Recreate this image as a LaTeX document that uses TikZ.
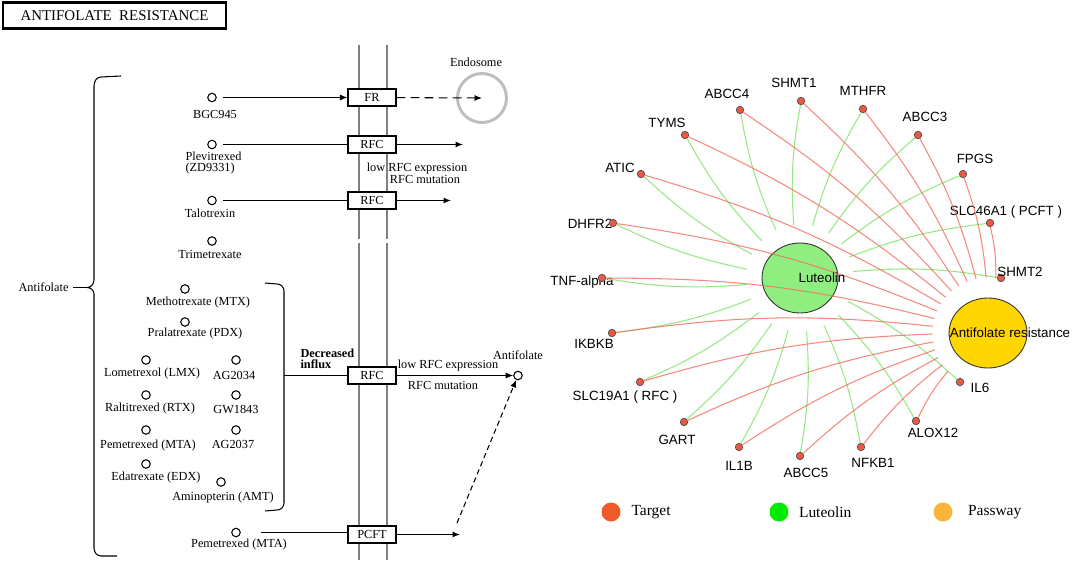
\documentclass[tikz,border=0pt]{standalone}
\usepackage{fontspec}
\setmainfont{Liberation Serif}
\newfontfamily\netfont{Liberation Sans}
\usetikzlibrary{arrows.meta,positioning,shapes.geometric}

\definecolor{tgtred}{RGB}{238,88,66}
\definecolor{redline}{RGB}{244,108,92}
\definecolor{greenline}{RGB}{150,232,130}
\definecolor{lutfill}{RGB}{144,238,128}
\definecolor{pathfill}{RGB}{255,214,0}
\definecolor{legtarget}{RGB}{240,90,40}
\definecolor{legluteolin}{RGB}{0,235,0}
\definecolor{legpass}{RGB}{250,180,60}
\definecolor{memgray}{RGB}{128,128,128}
\definecolor{endogray}{RGB}{190,190,190}

\tikzset{
  kegg/.style={font=\fontsize{7}{7}\selectfont,inner sep=0pt},
  cpd/.style={circle,draw,line width=0.6pt,inner sep=0pt,minimum size=0.17cm},
  gene/.style={draw,fill=white,line width=0.6pt,minimum width=0.96cm,minimum height=0.34cm,inner sep=0pt,font=\fontsize{7}{7}\selectfont},
  mem/.style={line width=1.7pt,draw=memgray},
  tgt/.style={circle,draw=black!70,line width=0.4pt,fill=tgtred,inner sep=0pt,minimum size=0.15cm},
  gname/.style={font=\netfont\fontsize{7.6}{8}\selectfont,inner sep=0pt},
  ring/.style={circle,inner sep=0pt},
  toLut/.style={draw=greenline,line width=0.6pt},
  toPath/.style={draw=redline,line width=0.6pt,draw opacity=0.8},
  legdot/.style={circle,inner sep=0pt,minimum size=0.38cm},
  leglbl/.style={font=\fontsize{8.8}{9}\selectfont,inner sep=0pt}
}

\begin{document}
\begin{tikzpicture}[x=0.02cm,y=-0.02cm,line width=0.6pt,>={Latex[length=1.5mm,width=1.2mm]}]
\useasboundingbox (0,0) rectangle (1072,561);

% KEGG map
\node[draw,line width=1.2pt,minimum width=4.46cm,minimum height=0.52cm,font=\fontsize{8.5}{9}\selectfont] (ttl) at (114.5,15.5) {ANTIFOLATE\ \ RESISTANCE};

\draw[mem] (359,45) -- (359,239) (387,45) -- (387,239)
           (359,243) -- (359,560) (387,243) -- (387,560);

\draw (121,76) -- (101,77) to[out=180,in=90] (94,86) -- (94,280) to[out=-90,in=0] (87,287.5)
      to[out=0,in=90] (94,294) -- (94,548) to[out=-90,in=180] (101,556) -- (117,556);
\coordinate (brace-tip) at (87,287.5);
\node[kegg,anchor=east] (af-left) at (69,287) {Antifolate};
\draw (af-left.east |- brace-tip) ++(4,0) -- (brace-tip);

\draw (265,283) -- (277,284) to[out=0,in=90] (284,291) -- (284,503)
      to[out=-90,in=0] (277,510) -- (265,511);
\coordinate (brk) at (284,375.5);

\node[gene] (fr) at (372,97.5) {FR};
\node[gene] (rfc1) at (372,144.5) {RFC};
\node[gene] (rfc2) at (372,200.5) {RFC};
\node[gene] (rfc3) at (372,375.5) {RFC};
\node[gene] (pcft) at (372,534.5) {PCFT};

\node[circle,draw=endogray,line width=1.7pt,minimum size=0.98cm,inner sep=0pt] (endo) at (482,98) {};
\node[kegg] (endo-l) at (476,62) {Endosome};

\node[cpd] (bgc) at (212,97.5) {};
\node[kegg] (bgc-l) at (215,114) {BGC945};
\node[cpd] (plev) at (212,144.5) {};
\node[kegg,align=left,anchor=north west,font=\fontsize{7}{6.4}\selectfont] (plev-l) at (185,151) {Plevitrexed\\(ZD9331)};
\node[cpd] (talo) at (212,200.5) {};
\node[kegg] (talo-l) at (210,213) {Talotrexin};
\node[cpd] (trime) at (212,241) {};
\node[kegg] (trime-l) at (210,254) {Trimetrexate};
\node[cpd] (mtx) at (185,289) {};
\node[kegg] (mtx-l) at (198,303) {Methotrexate (MTX)};
\node[cpd] (pdx) at (185,322) {};
\node[kegg] (pdx-l) at (195,334) {Pralatrexate (PDX)};
\node[cpd] (lmx) at (146,360) {};
\node[kegg] (lmx-l) at (152,374) {Lometrexol (LMX)};
\node[cpd] (ag34) at (236,360) {};
\node[kegg] (ag34-l) at (234,375) {AG2034};
\node[cpd] (rtx) at (146,395) {};
\node[kegg] (rtx-l) at (150,409) {Raltitrexed (RTX)};
\node[cpd] (gw) at (236,395) {};
\node[kegg] (gw-l) at (236,409) {GW1843};
\node[cpd] (mta) at (146,430) {};
\node[kegg] (mta-l) at (148,446) {Pemetrexed (MTA)};
\node[cpd] (ag37) at (236,430) {};
\node[kegg] (ag37-l) at (233,444) {AG2037};
\node[cpd] (edx) at (146,464) {};
\node[kegg] (edx-l) at (156,478) {Edatrexate (EDX)};
\node[cpd] (amt) at (221,482) {};
\node[kegg] (amt-l) at (223,498) {Aminopterin (AMT)};
\node[cpd] (mta2) at (236,532.5) {};
\node[kegg] (mta2-l) at (239,545) {Pemetrexed (MTA)};

\node[cpd] (af) at (518,375.5) {};
\node[kegg] (af-l) at (518,355) {Antifolate};

\node[kegg,anchor=west,font=\bfseries\fontsize{7}{7}\selectfont] (dec) at (300,353) {Decreased};
\node[kegg,anchor=west,font=\bfseries\fontsize{7}{7}\selectfont] (infl) at (300,364) {influx};
\node[kegg] (low1) at (417,169) {low RFC expression};
\node[kegg] (mut1) at (425,179) {RFC mutation};
\node[kegg] (low2) at (448,366) {low RFC expression};
\node[kegg] (mut2) at (443,385) {RFC mutation};

\coordinate (rfc1-end) at (463,144.5);
\coordinate (rfc2-end) at (451,200.5);
\coordinate (pcft-end) at (460,534.5);
\coordinate (dash-start) at (457,523);

\draw[->,shorten <=0.12cm] (bgc) -- (fr);
\draw[->,dashed,dash pattern=on 5pt off 3pt] (fr) -- (endo.center);
\draw[shorten <=0.12cm] (plev) -- (rfc1);
\draw[->] (rfc1) -- (rfc1-end);
\draw[shorten <=0.12cm] (talo) -- (rfc2);
\draw[->] (rfc2) -- (rfc2-end);
\draw (brk) -- (rfc3);
\draw[->] (rfc3) -- (af);
\draw[shorten <=0.4cm] (mta2) -- (pcft.west |- mta2);
\draw[->] (pcft) -- (pcft-end);
\draw[->,dash pattern=on 3pt off 2pt] (dash-start) -- (af);

% network
\node[tgt] (SHMT1) at (801,101) {};
\node[tgt] (ABCC4) at (740,110) {};
\node[tgt] (MTHFR) at (863,109) {};
\node[tgt] (TYMS) at (685,135) {};
\node[tgt] (ABCC3) at (918,135) {};
\node[tgt] (ATIC) at (641,174) {};
\node[tgt] (FPGS) at (963,174) {};
\node[tgt] (SLC46A1) at (990,223) {};
\node[tgt] (SHMT2) at (1001,278) {};
\node[tgt] (IKBKB) at (612,333) {};
\node[tgt] (SLC19A1) at (640,382) {};
\node[tgt] (GART) at (684,422) {};
\node[tgt] (IL1B) at (739,447) {};
\node[tgt] (ABCC5) at (800,456) {};
\node[tgt] (NFKB1) at (861,447) {};
\node[tgt] (ALOX12) at (916,421) {};
\node[tgt] (IL6) at (960,382) {};

\node[gname] (SHMT1-l) at (794,83) {SHMT1};
\node[gname] (ABCC4-l) at (727,94) {ABCC4};
\node[gname] (MTHFR-l) at (863,91) {MTHFR};
\node[gname] (TYMS-l) at (667,123) {TYMS};
\node[gname] (ABCC3-l) at (925,117) {ABCC3};
\node[gname] (ATIC-l) at (620,168) {ATIC};
\node[gname] (FPGS-l) at (975,159) {FPGS};
\node[gname] (DHFR2-l) at (590,224) {DHFR2};
\node[gname] (SLC46A1-l) at (1006,212) {SLC46A1 ( PCFT )};
\node[gname] (TNF-l) at (582,282) {TNF-alpha};
\node[gname] (SHMT2-l) at (1020,272) {SHMT2};
\node[gname] (IKBKB-l) at (594,344) {IKBKB};
\node[gname] (SLC19A1-l) at (625,397) {SLC19A1 ( RFC )};
\node[gname] (GART-l) at (677,440) {GART};
\node[gname] (IL1B-l) at (739,466) {IL1B};
\node[gname] (ABCC5-l) at (806,473) {ABCC5};
\node[gname] (NFKB1-l) at (873,463) {NFKB1};
\node[gname] (ALOX12-l) at (933,433) {ALOX12};
\node[gname] (IL6-l) at (980,388) {IL6};

\node[tgt] (DHFR2) at (613,223) {};
\node[tgt] (TNF) at (602,278) {};

\node[ellipse,draw=black!80,line width=0.5pt,fill=lutfill,minimum width=1.52cm,minimum height=1.4cm] (lut) at (800,278) {};
\node[ellipse,draw=black!80,line width=0.5pt,fill=pathfill,minimum width=1.56cm,minimum height=1.4cm] (ar) at (988,333) {};
\node[ring,minimum size=2.12cm] (lutR) at (800,278) {};
\node[ring,minimum size=2.2cm] (arR) at (988,333) {};

\path[toLut] (lutR) edge[bend left=7] (SHMT1) edge[bend left=7] (ABCC4)
  edge[bend left=7] (MTHFR) edge[bend left=7] (TYMS) edge[bend left=7] (ABCC3)
  edge[bend left=7] (ATIC) edge[bend left=7] (FPGS) edge[bend left=7] (DHFR2)
  edge[bend left=7] (SLC46A1) edge[bend left=7] (TNF) edge[bend left=7] (SHMT2)
  edge[bend left=7] (IKBKB) edge[bend left=7] (SLC19A1) edge[bend left=7] (GART)
  edge[bend left=7] (IL1B) edge[bend left=7] (ABCC5) edge[bend left=7] (NFKB1)
  edge[bend left=7] (ALOX12) edge[bend left=7] (IL6);

\path[toPath] (SHMT1) edge[bend left=7] (arR) (ABCC4) edge[bend left=7] (arR)
  (MTHFR) edge[bend left=7] (arR) (TYMS) edge[bend left=7] (arR)
  (ABCC3) edge[bend left=7] (arR) (ATIC) edge[bend left=7] (arR)
  (FPGS) edge[bend left=7] (arR) (DHFR2) edge[bend left=7] (arR)
  (SLC46A1) edge[bend left=7] (arR) (TNF) edge[bend left=7] (arR)
  (IKBKB) edge[bend left=7] (arR) (SLC19A1) edge[bend left=7] (arR)
  (GART) edge[bend left=7] (arR) (IL1B) edge[bend left=7] (arR)
  (ABCC5) edge[bend left=7] (arR) (NFKB1) edge[bend left=7] (arR)
  (ALOX12) edge[bend left=7] (arR);

\node[gname] (lut-l) at (822,278) {Luteolin};
\node[gname] (ar-l) at (1010,333) {Antifolate resistance};

% legend
\node[legdot,fill=legtarget] (leg-t) at (611,512) {};
\node[leglbl,right=0.2cm of leg-t] (leg-t-l) {Target};
\node[legdot,fill=legluteolin] (leg-lu) at (779,512) {};
\node[leglbl,right=0.19cm of leg-lu] (leg-lu-l) {Luteolin};
\node[legdot,fill=legpass] (leg-p) at (943,512) {};
\node[leglbl,right=0.29cm of leg-p] (leg-p-l) {Passway};
\end{tikzpicture}
\end{document}
